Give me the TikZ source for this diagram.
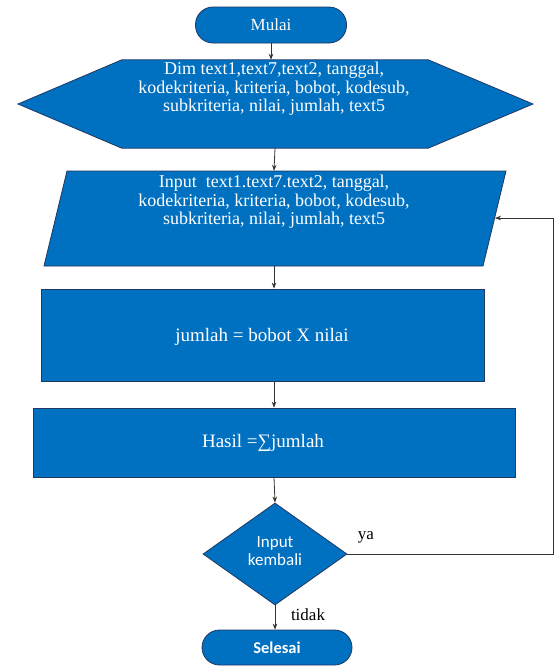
\documentclass[tikz,border=0pt]{standalone}
\usepackage{fontspec}
\setmainfont{Liberation Serif}
\newfontfamily\calibri{Carlito}
\usetikzlibrary{shapes.geometric,arrows.meta,calc}
\definecolor{boxblue}{RGB}{0,112,192}
\definecolor{edgeblue}{RGB}{32,56,100}
\tikzset{
  shapebox/.style={draw=edgeblue,line width=0.8pt,fill=boxblue,text=white,align=center,inner sep=0pt},
  termbox/.style={shapebox,rectangle,rounded corners=17.5pt},
  procbox/.style={shapebox,rectangle},
  decbox/.style={shapebox,diamond},
  holder/.style={rectangle,inner sep=0pt},
  txt/.style={text=white,align=center,inner sep=0pt},
  conn/.style={draw=black!80,line width=0.8pt,-{Stealth[length=6pt,width=4.5pt]}},
  plain/.style={draw=black!80,line width=0.8pt},
  lbl/.style={text=black,inner sep=0pt}
}
\begin{document}
\begin{tikzpicture}[x=1pt,y=-1pt]
\useasboundingbox[fill=white] (0,0) rectangle (556,667);
\fontsize{17}{18.5}\selectfont
% Start
\node[termbox,minimum width=151pt,minimum height=36pt] (mulai) at (271,25) {Mulai};
% Dim hexagon
\node[holder,minimum width=306pt,minimum height=88pt] (dim) at (275,104) {};
\coordinate (dimL) at (18,104);
\coordinate (dimR) at (533,104);
\filldraw[draw=edgeblue,line width=0.8pt,fill=boxblue]
  (dim.north west) -- (dim.north east) -- (dimR) -- (dim.south east) -- (dim.south west) -- (dimL) -- cycle;
\node[txt,font=\fontsize{18}{18.5}\selectfont] (dimtext) at (274,89) {Dim text1,text7,text2, tanggal,\\kodekriteria, kriteria, bobot, kodesub,\\subkriteria, nilai, jumlah, text5};
% Input parallelogram
\node[holder,minimum width=462pt,minimum height=95pt] (inp) at (274,218.5) {};
\coordinate (inpTL) at (67,171);
\coordinate (inpTR) at (506,171);
\coordinate (inpBR) at (483,266);
\coordinate (inpBL) at (44,266);
\coordinate (inpR) at (495,218);
\filldraw[draw=edgeblue,line width=0.8pt,fill=boxblue]
  (inpTL) -- (inpTR) -- (inpBR) -- (inpBL) -- cycle;
\node[txt,font=\fontsize{18}{18.5}\selectfont] (inptext) at (274,202) {Input\ \ text1.text7.text2, tanggal,\\kodekriteria, kriteria, bobot, kodesub,\\subkriteria, nilai, jumlah, text5};
% Process boxes
\node[procbox,minimum width=443pt,minimum height=92pt] (calc) at (262.5,335) {};
\node[txt,font=\fontsize{19}{20}\selectfont] (calctext) at (262,337) {jumlah = bobot X nilai};
\node[procbox,minimum width=482pt,minimum height=69pt] (hasil) at (274,442.5) {};
\node[txt,font=\fontsize{19}{20}\selectfont] (hasiltext) at (263,443) {Hasil =∑jumlah};
% Decision
\node[decbox,minimum width=144pt,minimum height=102pt] (dec) at (275,554) {};
\node[txt,font=\calibri\fontsize{17}{18}\selectfont] (dectext) at (275,551) {Input\\kembali};
% End
\node[termbox,minimum width=150pt,minimum height=35pt,font=\calibri\bfseries\fontsize{16.5}{18}\selectfont] (selesai) at (277,647.5) {Selesai};
% Connectors
\draw[conn] (mulai.south) -- (mulai.south |- dim.north);
\draw[conn] (dim.south) -- (inp.north);
\draw[conn] (inp.south) -- (inp.south |- calc.north);
\draw[conn] (calc.south -| hasil.north) -- (hasil.north);
\draw[conn] (hasil.south) -- (dec.north);
\draw[conn] (dec.south) -- (dec.south |- selesai.north);
\coordinate (loopB) at (553,554);
\coordinate (loopT) at (553,218);
\draw[plain] (dec.east) -- (loopB) -- (loopT);
\draw[conn] (loopT) -- (inpR);
% Labels
\node[lbl] (ya) at (366,537) {ya};
\node[lbl] (tidak) at (308,615) {tidak};
\end{tikzpicture}
\end{document}
